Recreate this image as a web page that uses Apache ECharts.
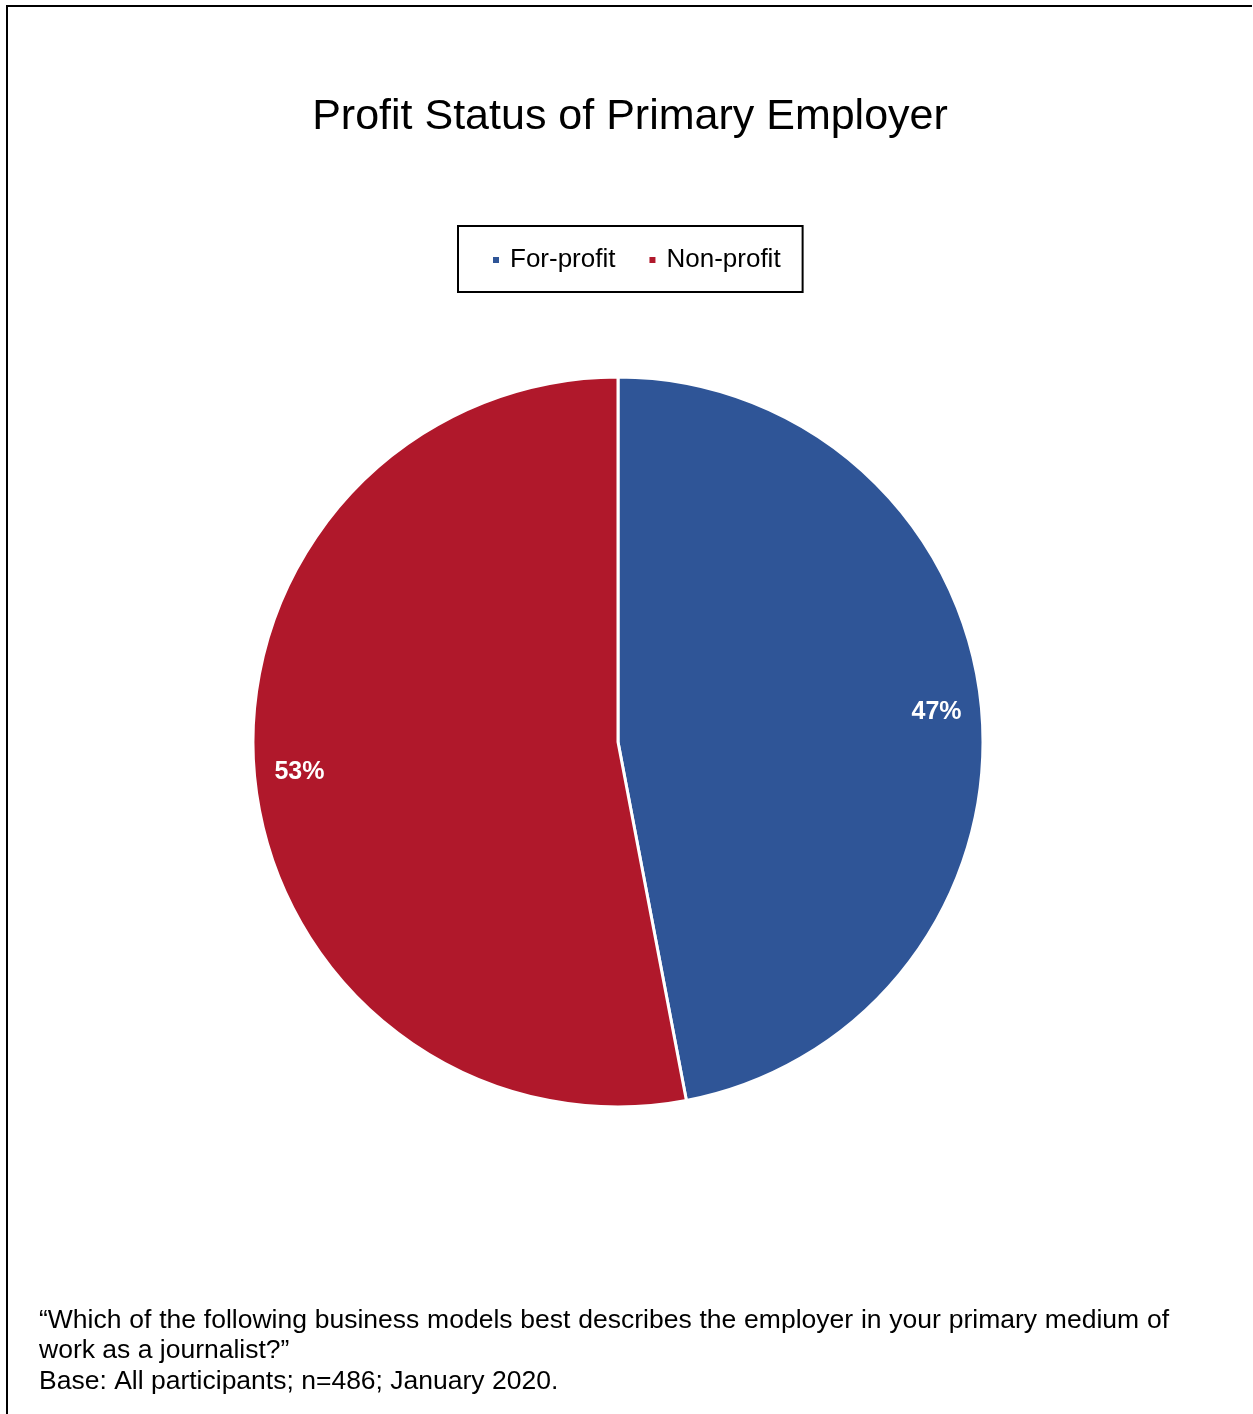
<!DOCTYPE html>
<html>
<head>
<meta charset="utf-8">
<script src="https://cdn.jsdelivr.net/npm/echarts@6/dist/echarts.min.js"></script>
<style>
  html, body { margin: 0; padding: 0; background: #fff; }
  #chart { width: 1253px; height: 1414px; }
</style>
</head>
<body>
<div id="chart"></div>
<script>
// Chart data
const categories = ['For-profit', 'Non-profit'];
const shares = [47, 53];
const colors = ['#2F5597', '#B0182B'];

const titleText = 'Profit Status of Primary Employer';
const noteLines = [
  '\u201cWhich of the following business models best describes the employer in your primary medium of',
  'work as a journalist?\u201d',
  'Base: All participants; n=486; January 2020.'
];

const FONT = '"Liberation Sans", Arial, Helvetica, sans-serif';
const NOTE_SIZE = 26.5;

// Lay out a justified line of text as separate words between x0 and x1
function justifiedWords(text, x0, x1, y, size) {
  const ctx = document.createElement('canvas').getContext('2d');
  ctx.font = size + 'px ' + FONT;
  const words = text.split(' ');
  const widths = words.map(w => ctx.measureText(w).width);
  const total = widths.reduce((a, b) => a + b, 0);
  const gap = (x1 - x0 - total) / (words.length - 1);
  let x = x0;
  return words.map((w, i) => {
    const el = {
      type: 'text', x: x, y: y,
      style: { text: w, font: size + 'px ' + FONT, fill: '#000', verticalAlign: 'middle' }
    };
    x += widths[i] + gap;
    return el;
  });
}

function noteText(text, y) {
  return {
    type: 'text', x: 39, y: y,
    style: { text: text, font: NOTE_SIZE + 'px ' + FONT, fill: '#000', verticalAlign: 'middle' }
  };
}

const seriesData = categories.map((name, i) => ({
  name: name, value: shares[i], itemStyle: { color: colors[i] }
}));

const chart = echarts.init(document.getElementById('chart'), null, { renderer: 'canvas' });

chart.setOption({
  backgroundColor: '#fff',
  animation: false,
  title: {
    text: titleText,
    left: 625,
    textAlign: 'center',
    top: 91,
    textStyle: { fontFamily: FONT, fontSize: 43, fontWeight: 'normal', color: '#000' }
  },
  legend: {
    data: categories,
    left: 458,
    top: 226,
    orient: 'horizontal',
    icon: 'rect',
    itemWidth: 8,
    itemHeight: 8,
    itemGap: 32,
    padding: [21, 22, 19, 33],
    borderColor: '#000',
    borderWidth: 2,
    selectedMode: false,
    textStyle: { fontFamily: FONT, fontSize: 26, color: '#000', padding: [0, 0, 0, 5] }
  },
  series: [
    {
      type: 'pie',
      center: [618, 742],
      radius: [0, 365],
      startAngle: 90,
      clockwise: true,
      silent: true,
      label: { show: false },
      labelLine: { show: false },
      itemStyle: { borderColor: '#fff', borderWidth: 3 },
      data: seriesData
    },
    {
      // transparent ring that carries the percentage labels near the rim
      type: 'pie',
      center: [618, 742],
      radius: [290, 344],
      startAngle: 90,
      clockwise: true,
      silent: true,
      legendHoverLink: false,
      itemStyle: { color: 'rgba(0,0,0,0)' },
      label: {
        show: true,
        position: 'inside',
        formatter: '{c}%',
        color: '#fff',
        fontFamily: FONT,
        fontWeight: 'bold',
        fontSize: 25
      },
      labelLine: { show: false },
      data: categories.map((name, i) => ({ name: name, value: shares[i] }))
    }
  ],
  graphic: [
    // outer frame: top and left rules
    { type: 'rect', shape: { x: 6, y: 5, width: 1246, height: 2 }, style: { fill: '#000' } },
    { type: 'rect', shape: { x: 6, y: 5, width: 2, height: 1409 }, style: { fill: '#000' } }
  ]
    .concat(justifiedWords(noteLines[0], 39, 1169, 1321, NOTE_SIZE))
    .concat([noteText(noteLines[1], 1351), noteText(noteLines[2], 1382)])
});
</script>
</body>
</html>
